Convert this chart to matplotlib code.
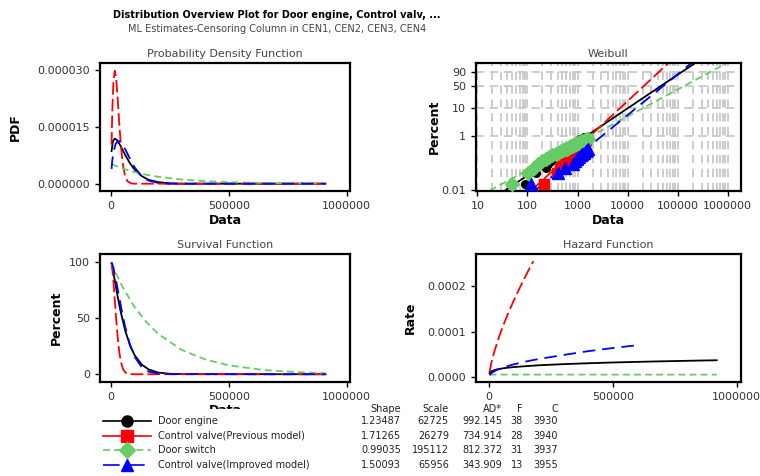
import matplotlib
matplotlib.use("Agg")
import matplotlib.pyplot as plt
import numpy as np
from matplotlib.lines import Line2D
from matplotlib.patches import Rectangle

plt.rcParams['font.family'] = ['DejaVu Sans']
plt.rcParams['lines.scale_dashes'] = False

# series names / colours
names = ["Door engine", "Control valve(Previous model)", "Door switch", "Control valve(Improved model)"]
colors = ["black", "#ff0000", "#66cc66", "#0000ff"]
markers = ["o", "s", "D", "^"]
styles = ["-", (0, (9, 3)), (0, (5, 3)), (0, (9, 5))]

# table values
shape = [1.23487, 1.71265, 0.99035, 1.50093]
scale = [62725, 26279, 195112, 65956]
ad_stat = [992.145, 734.914, 812.372, 343.909]
n_fail = [38, 28, 31, 13]
n_cens = [3930, 3940, 3937, 3955]

# probability density
pdf_x_engine = [2000, 8000, 16000, 25000, 40000, 60000, 80000, 100000, 130000, 160000, 200000, 250000, 300000, 910000]
pdf_engine = [8.6e-6, 1.12e-5, 1.19e-5, 1.15e-5, 1.0e-5, 7.6e-6, 5.4e-6, 3.7e-6, 2.0e-6, 1.0e-6, 4e-7, 1e-7, 0, 0]
pdf_x_prev = [2000, 5000, 10000, 16000, 22000, 28000, 35000, 42000, 50000, 60000, 70000, 85000, 100000, 910000]
pdf_prev = [1.03e-5, 1.88e-5, 2.70e-5, 2.98e-5, 2.75e-5, 2.24e-5, 1.56e-5, 9.8e-6, 5.1e-6, 1.9e-6, 6e-7, 1e-7, 0, 0]
pdf_x_switch = [2000, 20000, 50000, 100000, 150000, 200000, 300000, 400000, 500000, 650000, 800000, 910000]
pdf_switch = [5.2e-6, 4.7e-6, 4.0e-6, 3.05e-6, 2.35e-6, 1.82e-6, 1.09e-6, 6.6e-7, 4.0e-7, 1.9e-7, 9e-8, 5e-8]
pdf_x_impr = [2000, 5000, 10000, 20000, 32000, 45000, 60000, 80000, 100000, 130000, 160000, 200000, 250000, 910000]
pdf_impr = [3.9e-6, 6.1e-6, 8.3e-6, 1.06e-5, 1.13e-5, 1.07e-5, 9.1e-6, 6.6e-6, 4.3e-6, 2.0e-6, 8e-7, 2e-7, 0, 0]

# survival (percent)
surv_engine = [98.6, 92.4, 83.1, 72.5, 56.3, 38.8, 25.9, 16.9, 8.6, 4.2, 1.5, 0.4, 0.1, 0]
surv_prev = [98.8, 94.3, 82.6, 65.2, 47.8, 32.8, 19.5, 10.7, 4.9, 1.6, 0.5, 0.1, 0, 0]
surv_switch = [98.9, 90.0, 77.1, 59.7, 46.3, 35.9, 21.6, 13.1, 7.9, 3.7, 1.8, 1.0]
surv_impr = [99.5, 97.9, 94.3, 84.6, 71.3, 56.9, 42.0, 26.3, 15.5, 6.3, 2.3, 0.5, 0.1, 0]

# hazard
haz_x_engine = [2000, 10000, 30000, 60000, 100000, 200000, 300000, 400000, 500000, 650000, 800000, 919000]
haz_engine = [8.8e-6, 1.28e-5, 1.66e-5, 1.95e-5, 2.2e-5, 2.59e-5, 2.84e-5, 3.04e-5, 3.21e-5, 3.41e-5, 3.58e-5, 3.70e-5]
haz_x_prev = [2000, 10000, 20000, 40000, 60000, 80000, 100000, 120000, 140000, 160000, 179000]
haz_prev = [1.05e-5, 3.27e-5, 5.36e-5, 8.79e-5, 1.174e-4, 1.441e-4, 1.689e-4, 1.923e-4, 2.147e-4, 2.361e-4, 2.557e-4]
haz_x_switch = [2000, 400000, 919000]
haz_switch = [5.4e-6, 5.3e-6, 5.2e-6]
haz_x_impr = [2000, 10000, 30000, 60000, 100000, 150000, 200000, 300000, 400000, 500000, 603000]
haz_impr = [4.0e-6, 8.9e-6, 1.53e-5, 2.17e-5, 2.8e-5, 3.43e-5, 3.97e-5, 4.86e-5, 5.7e-5, 6.4e-5, 7.05e-5]

# weibull fitted lines (end points)
fit_x_engine = [36, 250000]
fit_p_engine = [0.01, 99.6]
fit_x_prev = [121, 71000]
fit_p_prev = [0.01, 99.6]
fit_x_switch = [17.8, 940000]
fit_p_switch = [0.01, 99.1]
fit_x_impr = [143, 206000]
fit_p_impr = [0.01, 99.6]

# weibull plotted points
pts_p = [0.0176, 0.0428, 0.0680, 0.0932, 0.1184, 0.1437, 0.1688, 0.1940, 0.2192, 0.2444,
         0.2696, 0.2948, 0.3200, 0.3452, 0.3704, 0.3956, 0.4208, 0.4460, 0.4712, 0.4964,
         0.5216, 0.5468, 0.5720, 0.5972, 0.6224, 0.6476, 0.6728, 0.6980, 0.7232, 0.7484,
         0.7736, 0.7988, 0.8240, 0.8492, 0.8744, 0.8996, 0.9248, 0.9500]
pts_x_engine = [90, 150, 240, 260, 290, 320, 350, 380, 410, 440, 470, 500, 530, 560, 590, 620, 650, 680, 710,
                740, 780, 820, 860, 900, 940, 980, 1020, 1060, 1100, 1140, 1180, 1220, 1260, 1300, 1340,
                1370, 1400, 1430]
pts_x_prev = [215, 390, 440, 480, 520, 560, 600, 640, 680, 720, 760, 800, 840, 880, 920, 960, 1000, 1040,
              1080, 1120, 1160, 1200, 1240, 1280, 1330, 1380, 1430, 1480]
pts_x_switch = [49, 105, 135, 160, 195, 235, 270, 310, 370, 410, 460, 510, 560, 620, 660, 700, 740, 790,
                840, 900, 950, 1000, 1060, 1120, 1180, 1250, 1320, 1390, 1460, 1540, 1640]
pts_x_impr = [120, 400, 560, 820, 900, 980, 1060, 1150, 1250, 1350, 1450, 1550, 1650]

W, H = 760, 476
fig = plt.figure(figsize=(7.6, 4.76), dpi=100)


def box(l, t, r, b):
    return [l / W, 1 - b / H, (r - l) / W, (b - t) / H]


def style_axes(ax, title):
    for s in ax.spines.values():
        s.set_linewidth(1.6)
    ax.tick_params(direction='out', length=3.5, width=1, labelsize=8, labelcolor='#333333')
    ax.set_title(title, fontsize=8, color='#444444', pad=4)


tfont = dict(fontsize=9, fontweight='bold')

# PDF
ax1 = fig.add_axes(box(100, 63, 350, 191))
pdf_xs = [pdf_x_engine, pdf_x_prev, pdf_x_switch, pdf_x_impr]
pdf_ys = [pdf_engine, pdf_prev, pdf_switch, pdf_impr]
for i in range(4):
    ax1.plot(pdf_xs[i], pdf_ys[i], color=colors[i], ls=styles[i], lw=1.3)
ax1.set_xlim(-47000, 1014000)
ax1.set_ylim(-1.93e-6, 3.185e-5)
ax1.set_xticks([0, 500000, 1000000])
ax1.set_yticks([0, 0.000015, 0.00003])
ax1.set_yticklabels(["0.000000", "0.000015", "0.000030"])
ax1.set_xticklabels(["0", "500000", "1000000"])
style_axes(ax1, "Probability Density Function")
ax1.set_xlabel("Data", labelpad=2, **tfont)
ax1.set_ylabel("PDF", labelpad=11.5, **tfont)

# Survival
ax3 = fig.add_axes(box(100, 254, 350, 382))
surv_ys = [surv_engine, surv_prev, surv_switch, surv_impr]
for i in range(4):
    ax3.plot(pdf_xs[i], surv_ys[i], color=colors[i], ls=styles[i], lw=1.3)
ax3.set_xlim(-47000, 1014000)
ax3.set_ylim(-6.9, 106.9)
ax3.set_xticks([0, 500000, 1000000])
ax3.set_xticklabels(["0", "500000", "1000000"])
ax3.set_yticks([0, 50, 100])
style_axes(ax3, "Survival Function")
ax3.set_xlabel("Data", labelpad=2, **tfont)
ax3.set_ylabel("Percent", labelpad=4.5, **tfont)

# Hazard
ax4 = fig.add_axes(box(476, 254, 741, 382))
haz_xs = [haz_x_engine, haz_x_prev, haz_x_switch, haz_x_impr]
haz_ys = [haz_engine, haz_prev, haz_switch, haz_impr]
for i in range(4):
    ax4.plot(haz_xs[i], haz_ys[i], color=colors[i], ls=styles[i], lw=1.3)
ax4.set_xlim(-52500, 1017000)
ax4.set_ylim(-1.1e-5, 2.715e-4)
ax4.set_xticks([0, 500000, 1000000])
ax4.set_xticklabels(["0", "500000", "1000000"])
ax4.set_yticks([0, 0.0001, 0.0002])
ax4.set_yticklabels(["0.0000", "0.0001", "0.0002"])
style_axes(ax4, "Hazard Function")
ax4.set_ylabel("Rate", labelpad=8, **tfont)

# Weibull probability plot
ax2 = fig.add_axes(box(476, 63, 741, 191))


def fwd(p):
    p = np.clip(np.asarray(p, dtype=float), 1e-9, 99.9999999)
    return np.log(-np.log(1 - p / 100.0))


def inv(w):
    return 100.0 * (1 - np.exp(-np.exp(w)))


ax2.set_xscale('log')
ax2.set_yscale('function', functions=(fwd, inv))
ax2.set_xlim(9.4, 1.84e6)
ax2.set_ylim(0.0095, 99.2)
grid_x = [m * 10 ** e for e in range(1, 7) for m in range(1, 10)]
for gx in grid_x:
    ax2.axvline(gx, color='#c8c8c8', lw=1.3, ls=(0, (6, 4)), zorder=0)
for gy in [1, 10, 50, 90]:
    ax2.axhline(gy, color='#c8c8c8', lw=1.3, ls=(0, (6, 4)), zorder=0)
fit_xs = [fit_x_engine, fit_x_prev, fit_x_switch, fit_x_impr]
fit_ps = [fit_p_engine, fit_p_prev, fit_p_switch, fit_p_impr]
pts_xs = [pts_x_engine, pts_x_prev, pts_x_switch, pts_x_impr]
msz = [5.5, 7, 7.5, 8.5]
for i in range(4):
    ax2.plot(fit_xs[i], fit_ps[i], color=colors[i], ls=styles[i], lw=1.3, zorder=2)
    ax2.plot(pts_xs[i], pts_p[:len(pts_xs[i])], ls='none', marker=markers[i], ms=msz[i],
             color=colors[i], mec=colors[i], zorder=3)
ax2.set_xticks([10, 100, 1000, 10000, 100000, 1000000])
ax2.set_xticklabels(["10", "100", "1000", "10000", "100000", "1000000"])
ax2.xaxis.set_minor_locator(matplotlib.ticker.NullLocator())
ax2.set_yticks([0.01, 1, 10, 50, 90])
ax2.set_yticklabels(["0.01", "1", "10", "50", "90"])
ax2.yaxis.set_minor_locator(matplotlib.ticker.NullLocator())
style_axes(ax2, "Weibull")
ax2.set_xlabel("Data", labelpad=2, **tfont)
ax2.set_ylabel("Percent", labelpad=0.5, **tfont)

# titles
fig.text(0.5 * (112 + 441) / W, 1 - 15 / H, "Distribution Overview Plot for Door engine, Control valv, ...",
         ha='center', va='center', fontsize=7, fontweight='bold')
fig.text(0.5 * (143 + 411) / W, 1 - 29 / H, "ML Estimates-Censoring Column in CEN1, CEN2, CEN3, CEN4",
         ha='center', va='center', fontsize=7, color='#444444')

# cover lower part of survival label like the legend block does
fig.add_artist(Rectangle((190 / W, 0), 70 / W, 1 - 409 / H, transform=fig.transFigure,
                         facecolor='white', edgecolor='none', zorder=5))

# legend
rows_y = [421, 435.7, 450, 465]
leg_styles = ["-", "-", (0, (5, 3)), (0, (12, 6))]
for i in range(4):
    fy = 1 - rows_y[i] / H
    fig.add_artist(Line2D([103 / W, 151 / W], [fy, fy], transform=fig.transFigure,
                          color=colors[i], lw=1.2, ls=leg_styles[i], zorder=6))
    fig.add_artist(Line2D([127 / W], [fy], transform=fig.transFigure, marker=markers[i],
                          ms=8, color=colors[i], zorder=7))
    fig.text(158 / W, fy, names[i], ha='left', va='center', fontsize=7, color='#222222', zorder=7)

# statistics table
col_x = [401, 449, 502, 523, 558]
heads = ["Shape", "Scale", "AD*", "F", "C"]
for j in range(5):
    fig.text(col_x[j] / W, 1 - 409 / H, heads[j], ha='right', va='center', fontsize=7, color='#222222')
for i in range(4):
    vals = ["%.5f" % shape[i], "%d" % scale[i], "%.3f" % ad_stat[i], "%d" % n_fail[i], "%d" % n_cens[i]]
    for j in range(5):
        fig.text(col_x[j] / W, 1 - rows_y[i] / H, vals[j], ha='right', va='center', fontsize=7,
                 color='#222222')

fig.savefig("out.png", dpi=100)
